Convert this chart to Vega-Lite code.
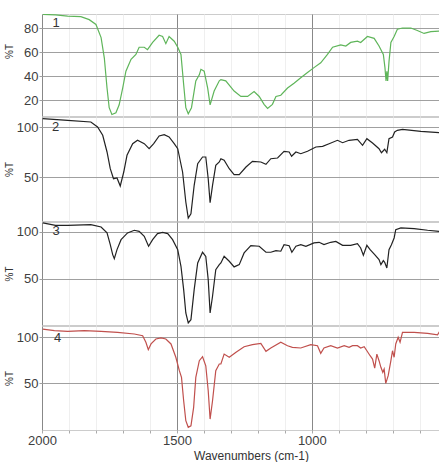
{
  "$schema": "https://vega.github.io/schema/vega-lite/v6.json",
  "padding": {"left": 3, "top": 13, "right": 0, "bottom": 0},
  "spacing": -2,
  "background": "white",
  "config": {
    "font": "Liberation Sans",
    "view": {"stroke": "#cccccc", "strokeWidth": 1},
    "axisY": {"domain": false, "tickSize": 3, "tickColor": "#a0a0a0", "gridColor": "#a0a0a0", "gridOpacity": 1, "labelPadding": 1, "labelFontSize": 13, "labelColor": "#404040", "titleFontSize": 10, "titleFontWeight": "normal", "titleColor": "#333333", "titlePadding": 2, "tickCount": 20, "format": "d"},
    "axisX": {"domain": false, "gridOpacity": 1, "tickCount": 40, "format": "d"}
  },
  "datasets": {
    "p1": [
      {"wn": 1997, "t": 91.4}, {"wn": 1950, "t": 91}, {"wn": 1905, "t": 90}, {"wn": 1856, "t": 89.5}, {"wn": 1825, "t": 87}, {"wn": 1800, "t": 83}, {"wn": 1781, "t": 72}, {"wn": 1769, "t": 55}, {"wn": 1759, "t": 30}, {"wn": 1751, "t": 13.6}, {"wn": 1741, "t": 8}, {"wn": 1726, "t": 9.4}, {"wn": 1714, "t": 16}, {"wn": 1701, "t": 30}, {"wn": 1689, "t": 44}, {"wn": 1670, "t": 54}, {"wn": 1652, "t": 58}, {"wn": 1640, "t": 64}, {"wn": 1621, "t": 64}, {"wn": 1609, "t": 62}, {"wn": 1590, "t": 68}, {"wn": 1566, "t": 74}, {"wn": 1553, "t": 73}, {"wn": 1541, "t": 67}, {"wn": 1529, "t": 73}, {"wn": 1510, "t": 69}, {"wn": 1497, "t": 64}, {"wn": 1485, "t": 58}, {"wn": 1475, "t": 33}, {"wn": 1467, "t": 13.6}, {"wn": 1458, "t": 8.6}, {"wn": 1446, "t": 13.6}, {"wn": 1430, "t": 36}, {"wn": 1417, "t": 41}, {"wn": 1411, "t": 45.6}, {"wn": 1399, "t": 44}, {"wn": 1386, "t": 30}, {"wn": 1377, "t": 16}, {"wn": 1362, "t": 27.5}, {"wn": 1343, "t": 36}, {"wn": 1337, "t": 37}, {"wn": 1319, "t": 36}, {"wn": 1288, "t": 27.5}, {"wn": 1263, "t": 23}, {"wn": 1238, "t": 23}, {"wn": 1214, "t": 27}, {"wn": 1195, "t": 23}, {"wn": 1177, "t": 16.4}, {"wn": 1164, "t": 13}, {"wn": 1146, "t": 16.4}, {"wn": 1133, "t": 23}, {"wn": 1115, "t": 24}, {"wn": 1090, "t": 30}, {"wn": 1066, "t": 34}, {"wn": 1041, "t": 38.6}, {"wn": 1016, "t": 43}, {"wn": 992, "t": 47}, {"wn": 967, "t": 51}, {"wn": 942, "t": 58}, {"wn": 923, "t": 64}, {"wn": 893, "t": 66}, {"wn": 874, "t": 65}, {"wn": 856, "t": 68}, {"wn": 831, "t": 69}, {"wn": 819, "t": 68}, {"wn": 794, "t": 73}, {"wn": 769, "t": 71.4}, {"wn": 751, "t": 65}, {"wn": 735, "t": 58}, {"wn": 729, "t": 47}, {"wn": 725, "t": 36}, {"wn": 722, "t": 44}, {"wn": 719, "t": 36}, {"wn": 714, "t": 52}, {"wn": 707, "t": 68}, {"wn": 695, "t": 73}, {"wn": 683, "t": 79}, {"wn": 664, "t": 80}, {"wn": 633, "t": 80}, {"wn": 609, "t": 78}, {"wn": 584, "t": 75.5}, {"wn": 559, "t": 77}, {"wn": 528, "t": 77.5}
    ],
    "p2": [
      {"wn": 1997, "t": 108.3}, {"wn": 1905, "t": 106.7}, {"wn": 1819, "t": 105}, {"wn": 1794, "t": 100}, {"wn": 1775, "t": 91.7}, {"wn": 1759, "t": 75}, {"wn": 1747, "t": 58.3}, {"wn": 1735, "t": 48.3}, {"wn": 1722, "t": 49}, {"wn": 1710, "t": 41}, {"wn": 1697, "t": 55}, {"wn": 1685, "t": 71.7}, {"wn": 1664, "t": 83.3}, {"wn": 1646, "t": 86.7}, {"wn": 1621, "t": 83.3}, {"wn": 1603, "t": 78.3}, {"wn": 1586, "t": 83.3}, {"wn": 1566, "t": 91}, {"wn": 1547, "t": 92.3}, {"wn": 1529, "t": 90}, {"wn": 1510, "t": 83.3}, {"wn": 1497, "t": 78.3}, {"wn": 1479, "t": 55}, {"wn": 1467, "t": 25}, {"wn": 1458, "t": 9}, {"wn": 1448, "t": 13.3}, {"wn": 1436, "t": 41.7}, {"wn": 1423, "t": 63.3}, {"wn": 1405, "t": 70}, {"wn": 1393, "t": 70}, {"wn": 1384, "t": 48.3}, {"wn": 1377, "t": 24.3}, {"wn": 1368, "t": 41.7}, {"wn": 1356, "t": 61.7}, {"wn": 1343, "t": 65}, {"wn": 1337, "t": 68.3}, {"wn": 1325, "t": 66.7}, {"wn": 1306, "t": 58.3}, {"wn": 1288, "t": 52.3}, {"wn": 1269, "t": 52.3}, {"wn": 1244, "t": 60}, {"wn": 1220, "t": 65.7}, {"wn": 1189, "t": 65}, {"wn": 1170, "t": 62.7}, {"wn": 1152, "t": 68.3}, {"wn": 1127, "t": 69}, {"wn": 1103, "t": 75.7}, {"wn": 1084, "t": 75}, {"wn": 1075, "t": 70.7}, {"wn": 1059, "t": 75}, {"wn": 1041, "t": 73.3}, {"wn": 1016, "t": 75.7}, {"wn": 985, "t": 80}, {"wn": 960, "t": 80.7}, {"wn": 936, "t": 83.3}, {"wn": 905, "t": 86.7}, {"wn": 886, "t": 84.3}, {"wn": 862, "t": 86.7}, {"wn": 831, "t": 87.7}, {"wn": 812, "t": 81.7}, {"wn": 796, "t": 88.3}, {"wn": 775, "t": 84}, {"wn": 751, "t": 78.3}, {"wn": 742, "t": 74.3}, {"wn": 730, "t": 77.7}, {"wn": 722, "t": 74.3}, {"wn": 714, "t": 88.3}, {"wn": 701, "t": 90}, {"wn": 693, "t": 95}, {"wn": 683, "t": 96.7}, {"wn": 664, "t": 97.7}, {"wn": 596, "t": 95.7}, {"wn": 528, "t": 94.3}
    ],
    "p3": [
      {"wn": 1997, "t": 109.6}, {"wn": 1950, "t": 107}, {"wn": 1905, "t": 107}, {"wn": 1819, "t": 107.8}, {"wn": 1781, "t": 105.3}, {"wn": 1759, "t": 99}, {"wn": 1747, "t": 86.5}, {"wn": 1738, "t": 75.9}, {"wn": 1732, "t": 71.6}, {"wn": 1722, "t": 81.2}, {"wn": 1707, "t": 91.8}, {"wn": 1683, "t": 99}, {"wn": 1658, "t": 101.8}, {"wn": 1640, "t": 100.7}, {"wn": 1621, "t": 95.4}, {"wn": 1605, "t": 84.8}, {"wn": 1590, "t": 91.8}, {"wn": 1572, "t": 98.2}, {"wn": 1553, "t": 99.6}, {"wn": 1534, "t": 98.2}, {"wn": 1516, "t": 91.8}, {"wn": 1497, "t": 81.2}, {"wn": 1485, "t": 63.5}, {"wn": 1475, "t": 38.6}, {"wn": 1467, "t": 13.8}, {"wn": 1458, "t": 3.2}, {"wn": 1448, "t": 6.7}, {"wn": 1436, "t": 38.6}, {"wn": 1423, "t": 67}, {"wn": 1405, "t": 78.4}, {"wn": 1393, "t": 74}, {"wn": 1384, "t": 49.3}, {"wn": 1377, "t": 13.8}, {"wn": 1368, "t": 31.6}, {"wn": 1356, "t": 59.9}, {"wn": 1343, "t": 65.2}, {"wn": 1337, "t": 67}, {"wn": 1325, "t": 74.1}, {"wn": 1306, "t": 68.8}, {"wn": 1288, "t": 62.8}, {"wn": 1269, "t": 65.2}, {"wn": 1251, "t": 77.7}, {"wn": 1226, "t": 85.4}, {"wn": 1195, "t": 84.8}, {"wn": 1170, "t": 78.4}, {"wn": 1152, "t": 78.4}, {"wn": 1133, "t": 80.1}, {"wn": 1115, "t": 79.5}, {"wn": 1103, "t": 86.5}, {"wn": 1084, "t": 85.4}, {"wn": 1074, "t": 78.4}, {"wn": 1059, "t": 84.8}, {"wn": 1041, "t": 86.5}, {"wn": 1022, "t": 84.8}, {"wn": 992, "t": 88.3}, {"wn": 973, "t": 89}, {"wn": 955, "t": 86.5}, {"wn": 930, "t": 89}, {"wn": 911, "t": 90}, {"wn": 886, "t": 85.8}, {"wn": 856, "t": 85.8}, {"wn": 831, "t": 87.6}, {"wn": 819, "t": 83}, {"wn": 809, "t": 75.2}, {"wn": 796, "t": 85.8}, {"wn": 784, "t": 81.2}, {"wn": 767, "t": 75.9}, {"wn": 751, "t": 70.6}, {"wn": 744, "t": 65.2}, {"wn": 735, "t": 69.5}, {"wn": 730, "t": 67.7}, {"wn": 722, "t": 61.7}, {"wn": 714, "t": 81.2}, {"wn": 705, "t": 86.5}, {"wn": 695, "t": 93.6}, {"wn": 689, "t": 102.5}, {"wn": 670, "t": 104.3}, {"wn": 621, "t": 103.6}, {"wn": 571, "t": 101.8}, {"wn": 528, "t": 100.7}
    ],
    "p4": [
      {"wn": 1997, "t": 109}, {"wn": 1954, "t": 107.2}, {"wn": 1905, "t": 106.5}, {"wn": 1843, "t": 107.2}, {"wn": 1781, "t": 106.5}, {"wn": 1720, "t": 105.4}, {"wn": 1658, "t": 103.6}, {"wn": 1627, "t": 101.8}, {"wn": 1615, "t": 94.6}, {"wn": 1606, "t": 86.6}, {"wn": 1596, "t": 92.8}, {"wn": 1578, "t": 98.2}, {"wn": 1559, "t": 99.3}, {"wn": 1541, "t": 98.2}, {"wn": 1522, "t": 92.8}, {"wn": 1504, "t": 78.3}, {"wn": 1491, "t": 63.8}, {"wn": 1483, "t": 56.5}, {"wn": 1475, "t": 31.1}, {"wn": 1467, "t": 9.4}, {"wn": 1458, "t": 2.2}, {"wn": 1448, "t": 3.9}, {"wn": 1438, "t": 23.9}, {"wn": 1430, "t": 56.5}, {"wn": 1417, "t": 74.6}, {"wn": 1405, "t": 78.9}, {"wn": 1393, "t": 69.1}, {"wn": 1384, "t": 42}, {"wn": 1377, "t": 11.2}, {"wn": 1368, "t": 31.1}, {"wn": 1356, "t": 63.8}, {"wn": 1343, "t": 71}, {"wn": 1337, "t": 71}, {"wn": 1325, "t": 81.8}, {"wn": 1306, "t": 78.3}, {"wn": 1281, "t": 83.7}, {"wn": 1251, "t": 89.8}, {"wn": 1220, "t": 92}, {"wn": 1189, "t": 93.5}, {"wn": 1170, "t": 84.8}, {"wn": 1152, "t": 88.4}, {"wn": 1115, "t": 94.6}, {"wn": 1090, "t": 90.9}, {"wn": 1072, "t": 89.1}, {"wn": 1041, "t": 88.4}, {"wn": 1004, "t": 92}, {"wn": 979, "t": 90.9}, {"wn": 967, "t": 82.6}, {"wn": 955, "t": 88.4}, {"wn": 930, "t": 90.9}, {"wn": 905, "t": 88.4}, {"wn": 880, "t": 90.9}, {"wn": 862, "t": 89.1}, {"wn": 849, "t": 90.9}, {"wn": 831, "t": 90.9}, {"wn": 819, "t": 88.4}, {"wn": 806, "t": 89.8}, {"wn": 796, "t": 85.4}, {"wn": 784, "t": 80}, {"wn": 775, "t": 76.4}, {"wn": 767, "t": 66.6}, {"wn": 759, "t": 81.8}, {"wn": 751, "t": 74.6}, {"wn": 744, "t": 67.4}, {"wn": 737, "t": 62}, {"wn": 732, "t": 65.5}, {"wn": 726, "t": 50}, {"wn": 717, "t": 58.3}, {"wn": 707, "t": 74.6}, {"wn": 701, "t": 85.4}, {"wn": 695, "t": 78.3}, {"wn": 689, "t": 92.8}, {"wn": 680, "t": 100}, {"wn": 673, "t": 94.6}, {"wn": 664, "t": 105.4}, {"wn": 621, "t": 105.4}, {"wn": 571, "t": 104.3}, {"wn": 534, "t": 102.8}, {"wn": 526, "t": 106.5}
    ]
  },
  "vconcat": [
    {
      "width": 398, "height": 102,
      "data": {"name": "p1"},
      "layer": [
        {
          "mark": {"type": "line", "color": "#5fb55a", "strokeWidth": 1.2, "clip": true},
          "encoding": {
            "x": {"field": "wn", "type": "quantitative", "scale": {"domain": [525, 2000], "reverse": true, "nice": false, "zero": false},
              "axis": {"values": [600, 700, 800, 900, 1000, 1100, 1200, 1300, 1400, 1500, 1600, 1700, 1800, 1900, 2000], "labels": false, "ticks": false, "title": null, "grid": true, "gridColor": {"condition": {"test": "datum.value % 500 === 0", "value": "#888888"}, "value": "#efefef"}}},
            "y": {"field": "t", "type": "quantitative", "scale": {"domain": [6.7, 91.7], "nice": false, "zero": false},
              "axis": {"values": [20, 40, 60, 80], "title": "%T", "titlePadding": 9, "titleY": 37}}
          }
        },
        {
          "data": {"values": [{}]},
          "mark": {"type": "text", "fontSize": 13, "color": "#333333", "align": "center", "baseline": "middle"},
          "encoding": {"x": {"datum": 1948, "type": "quantitative"}, "y": {"datum": 84, "type": "quantitative"}, "text": {"value": "1"}}
        }
      ]
    },
    {
      "width": 398, "height": 104,
      "data": {"name": "p2"},
      "layer": [
        {
          "mark": {"type": "line", "color": "#222222", "strokeWidth": 1.2, "clip": true},
          "encoding": {
            "x": {"field": "wn", "type": "quantitative", "scale": {"domain": [525, 2000], "reverse": true, "nice": false, "zero": false},
              "axis": {"values": [600, 700, 800, 900, 1000, 1100, 1200, 1300, 1400, 1500, 1600, 1700, 1800, 1900, 2000], "labels": false, "ticks": false, "title": null, "grid": true, "gridColor": {"condition": {"test": "datum.value % 500 === 0", "value": "#888888"}, "value": "#efefef"}}},
            "y": {"field": "t", "type": "quantitative", "scale": {"domain": [6, 110], "nice": false, "zero": false},
              "axis": {"values": [50, 100], "title": "%T"}}
          }
        },
        {
          "data": {"values": [{}]},
          "mark": {"type": "text", "fontSize": 13, "color": "#333333", "align": "center", "baseline": "middle"},
          "encoding": {"x": {"datum": 1950, "type": "quantitative"}, "y": {"datum": 100, "type": "quantitative"}, "text": {"value": "2"}}
        }
      ]
    },
    {
      "width": 398, "height": 103,
      "data": {"name": "p3"},
      "layer": [
        {
          "mark": {"type": "line", "color": "#222222", "strokeWidth": 1.2, "clip": true},
          "encoding": {
            "x": {"field": "wn", "type": "quantitative", "scale": {"domain": [525, 2000], "reverse": true, "nice": false, "zero": false},
              "axis": {"values": [600, 700, 800, 900, 1000, 1100, 1200, 1300, 1400, 1500, 1600, 1700, 1800, 1900, 2000], "labels": false, "ticks": false, "title": null, "grid": true, "gridColor": {"condition": {"test": "datum.value % 500 === 0", "value": "#888888"}, "value": "#efefef"}}},
            "y": {"field": "t", "type": "quantitative", "scale": {"domain": [1, 110.6], "nice": false, "zero": false},
              "axis": {"values": [50, 100], "title": "%T"}}
          }
        },
        {
          "data": {"values": [{}]},
          "mark": {"type": "text", "fontSize": 13, "color": "#333333", "align": "center", "baseline": "middle"},
          "encoding": {"x": {"datum": 1948, "type": "quantitative"}, "y": {"datum": 101, "type": "quantitative"}, "text": {"value": "3"}}
        }
      ]
    },
    {
      "width": 398, "height": 104,
      "data": {"name": "p4"},
      "layer": [
        {
          "mark": {"type": "line", "color": "#c0504d", "strokeWidth": 1.2, "clip": true},
          "encoding": {
            "x": {"field": "wn", "type": "quantitative", "scale": {"domain": [525, 2000], "reverse": true, "nice": false, "zero": false},
              "axis": {"values": [600, 700, 800, 900, 1000, 1100, 1200, 1300, 1400, 1500, 1600, 1700, 1800, 1900, 2000], "labelExpr": "datum.value % 500 === 0 ? datum.label : ''", "labelFlush": false, "labelFontSize": 13, "labelColor": "#404040", "labelPadding": 1, "tickSize": 3, "tickColor": "#aaaaaa", "title": "Wavenumbers (cm-1)", "titleFontSize": 12, "titleFontWeight": "normal", "titleColor": "#333333", "titlePadding": 3, "titleX": 209, "grid": true, "gridColor": {"condition": {"test": "datum.value % 500 === 0", "value": "#888888"}, "value": "#efefef"}}},
            "y": {"field": "t", "type": "quantitative", "scale": {"domain": [-0.7, 112.3], "nice": false, "zero": false},
              "axis": {"values": [50, 100], "title": "%T"}}
          }
        },
        {
          "data": {"values": [{}]},
          "mark": {"type": "text", "fontSize": 13, "color": "#333333", "align": "center", "baseline": "middle"},
          "encoding": {"x": {"datum": 1942, "type": "quantitative"}, "y": {"datum": 99, "type": "quantitative"}, "text": {"value": "4"}}
        }
      ]
    }
  ]
}
